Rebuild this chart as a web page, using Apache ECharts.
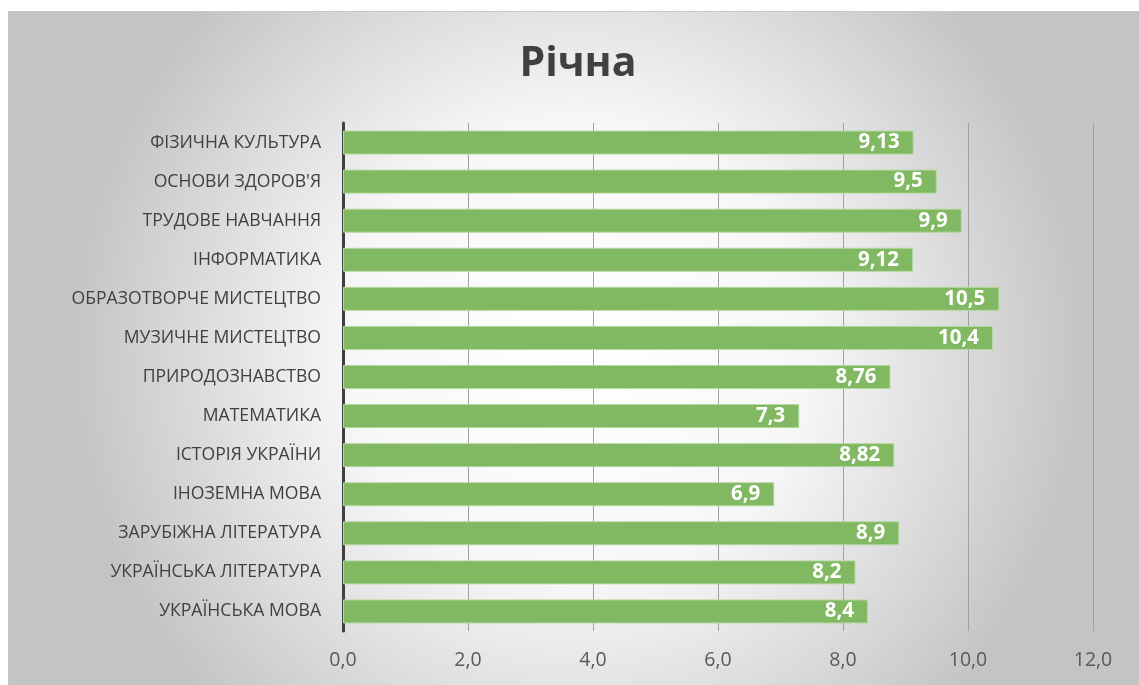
<!DOCTYPE html>
<html>
<head>
<meta charset="utf-8">
<script src="https://cdn.jsdelivr.net/npm/echarts@6/dist/echarts.min.js"></script>
<style>
    html, body { margin: 0; padding: 0; background: #fff; overflow: hidden; }
    #main { position: absolute; left: 8px; top: 11px; width: 1140px; height: 680px;
        border: 1px solid #c8c8c8; box-sizing: border-box; }
</style>
</head>
<body>
<div id="main"></div>
<script>
    var categories = ["УКРАЇНСЬКА МОВА", "УКРАЇНСЬКА ЛІТЕРАТУРА", "ЗАРУБІЖНА ЛІТЕРАТУРА",
        "ІНОЗЕМНА МОВА", "ІСТОРІЯ УКРАЇНИ", "МАТЕМАТИКА", "ПРИРОДОЗНАВСТВО",
        "МУЗИЧНЕ МИСТЕЦТВО", "ОБРАЗОТВОРЧЕ МИСТЕЦТВО", "ІНФОРМАТИКА",
        "ТРУДОВЕ НАВЧАННЯ", "ОСНОВИ ЗДОРОВ'Я", "ФІЗИЧНА КУЛЬТУРА"];
    var values = [8.4, 8.2, 8.9, 6.9, 8.82, 7.3, 8.76, 10.4, 10.5, 9.12, 9.9, 9.5, 9.13];
    var titleText = "Річна";

    var font = '"Open Sans", sans-serif';

    var option = {
        animation: false,
        backgroundColor: {
            type: 'radial', x: 0.5, y: 0.5, r: 0.75,
            colorStops: [
                { offset: 0, color: '#ffffff' },
                { offset: 0.45, color: '#f7f7f7' },
                { offset: 1, color: '#c4c4c4' }
            ]
        },
        title: {
            text: titleText,
            left: 'center',
            top: 27,
            textStyle: { fontFamily: font, fontSize: 41, fontWeight: 'bold', color: '#404040' }
        },
        grid: { left: 334, top: 111, width: 750, height: 508, containLabel: false },
        xAxis: {
            type: 'value',
            min: 0, max: 12, interval: 2,
            axisLine: { show: false },
            axisTick: { show: false },
            splitLine: { lineStyle: { color: '#a0a0a0', width: 1 } },
            axisLabel: {
                fontFamily: font, fontSize: 19.5, color: '#595959', margin: 19,
                formatter: function(v) { return v.toFixed(1).replace('.', ','); }
            }
        },
        yAxis: {
            type: 'category',
            data: categories,
            axisLine: { lineStyle: { color: '#404040', width: 3 } },
            axisTick: { show: false },
            axisLabel: { fontFamily: font, fontSize: 17.6, color: '#404040', margin: 22 }
        },
        series: [{
            type: 'bar',
            data: values,
            barWidth: 24,
            itemStyle: { color: '#80b962', borderColor: '#b5d7a0', borderWidth: 1 },
            label: {
                show: true,
                position: 'insideRight',
                distance: 14,
                fontFamily: font, fontSize: 20.5, fontWeight: 'bold', color: '#ffffff',
                formatter: function(p) { return String(p.value).replace('.', ','); }
            }
        }]
    };

    var myChart = echarts.init(document.getElementById('main'));
    myChart.setOption(option);
</script>
</body>
</html>
